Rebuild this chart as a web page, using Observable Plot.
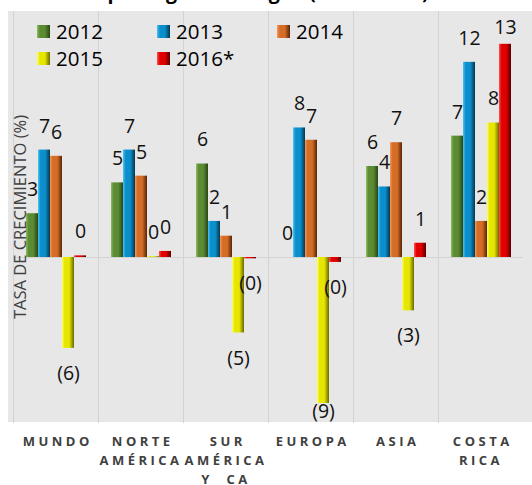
<!DOCTYPE html>
<html>
<head>
<meta charset="utf-8">
<script src="https://cdn.jsdelivr.net/npm/d3@7"></script>
<script src="https://cdn.jsdelivr.net/npm/@observablehq/plot@0.6"></script>
<style>
  html, body { margin: 0; padding: 0; background: #fff; }
  #wrap { position: relative; width: 532px; height: 485px; overflow: hidden; font-family: "Open Sans", sans-serif; }
  #bg { position: absolute; left: 8px; top: 11px; width: 524px; height: 411px; background: #e7e7e7; }
  #chart { position: absolute; left: 0; top: 0; }
  #title { position: absolute; left: 0; top: 0; }
  #legend { position: absolute; left: 0; top: 0; width: 532px; height: 80px; }
  .li { position: absolute; display: flex; align-items: center; font-size: 20.5px; color: #000; line-height: 1; }
  .li svg { margin-right: 6px; }
  #ytitle { position: absolute; left: 18.5px; top: 217px; transform: translate(-50%, -50%) rotate(-90deg); white-space: nowrap; font-size: 16.5px; color: #404040; }
</style>
</head>
<body>
<div id="wrap">
  <div id="bg"></div>
  <svg width="0" height="0" style="position:absolute">
    <defs id="defs"></defs>
  </svg>
  <div id="chart"></div>
  <svg id="title" width="532" height="12"><text x="268" y="-1.5" text-anchor="middle" font-family="Open Sans" font-weight="bold" font-size="19.5" fill="#000">por región de origen (2012-2016*)</text></svg>
  <div id="legend"></div>
  <div id="ytitle">TASA DE CRECIMIENTO (%)</div>
</div>
<script>
const regions = ["MUNDO", "NORTE AMÉRICA", "SUR AMÉRICA Y CA", "EUROPA", "ASIA", "COSTA RICA"];
const regionLabels = ["MUNDO", "NORTE\nAMÉRICA", "SUR\nAMÉRICA\nY  CA", "EUROPA", "ASIA", "COSTA\nRICA"];
const years = ["2012", "2013", "2014", "2015", "2016*"];
const v2012 = [2.67, 4.55, 5.7, 0, 5.55, 7.4];
const v2013 = [6.55, 6.55, 2.2, 7.9, 4.3, 11.9];
const v2014 = [6.17, 4.96, 1.3, 7.15, 7.0, 2.2];
const v2015 = [-5.54, 0.05, -4.6, -8.9, -3.25, 8.2];
const v2016 = [0.1, 0.37, -0.08, -0.3, 0.87, 13.0];
const seriesColors = {
  "2012": ["#8fbd5e", "#5b8c33", "#2a4514"],
  "2013": ["#4cc3f2", "#0b8fcc", "#03384f"],
  "2014": ["#f29a5c", "#d56d26", "#552506"],
  "2015": ["#ffff70", "#e6e600", "#6a6a00"],
  "2016*": ["#ff5050", "#e00000", "#560000"]
};

const series = [v2012, v2013, v2014, v2015, v2016];
const data = [];
years.forEach((yr, j) => regions.forEach((r, i) => data.push({region: r, year: yr, value: series[j][i]})));

// gradients (bevel look)
const defs = document.getElementById("defs");
years.forEach((yr, j) => {
  const [light, main, dark] = seriesColors[yr];
  const id = "g" + j;
  defs.insertAdjacentHTML("beforeend",
    `<linearGradient id="${id}" x1="0" x2="1" y1="0" y2="0">
      <stop offset="0" stop-color="${light}"/>
      <stop offset="0.22" stop-color="${main}"/>
      <stop offset="0.6" stop-color="${main}"/>
      <stop offset="1" stop-color="${dark}"/>
    </linearGradient>`);
});

const fmt = v => {
  const r = Math.round(Math.abs(v));
  return v < 0 ? `(${r})` : `${r}`;
};
const labelY = d => d.value >= 0 ? Math.min(d.value + 1.45, 14.0) : Math.max(d.value - 1.55, -9.4);

const marks = [
  Plot.frame({anchor: "left", stroke: "#d3d3d3"}),
  Plot.ruleY([0], {stroke: "#d3d3d3"})
];
years.forEach((yr, j) => {
  marks.push(Plot.barY(data.filter(d => d.year === yr), {
    fx: "region", x: "year", y: "value", fill: `url(#g${j})`
  }));
});
marks.push(Plot.text(data, {
  fx: "region", x: "year", y: labelY, text: d => fmt(d.value),
  fontSize: 19.5, fill: "#111"
}));
marks.push(Plot.axisFx({
  anchor: "bottom", tickSize: 0, tickPadding: 10, label: null, lineHeight: 1.45,
  fontSize: 13, fontWeight: "bold", fill: "#404040",
  tickFormat: d => regionLabels[regions.indexOf(d)]
}));

const plot = Plot.plot({
  width: 532, height: 485,
  marginLeft: 10, marginRight: 7, marginTop: 11, marginBottom: 63,
  style: {fontFamily: "Open Sans", background: "transparent", overflow: "visible"},
  fx: {domain: regions, padding: 0, label: null, axis: null},
  x: {domain: years, paddingInner: 0, paddingOuter: 0.88, axis: null},
  y: {domain: [-10.06, 15.0], axis: null},
  marks
});
document.getElementById("chart").appendChild(plot);

d3.select(plot).selectAll('[aria-label="fx-axis tick label"]')
  .style("letter-spacing", "3.5px").attr("font-weight", "bold");
d3.select(plot).selectAll('[aria-label="fx-axis tick label"] text').attr("dx", 1.75);

// legend
const legend = document.getElementById("legend");
const pos = [[37, 31], [157, 31], [277, 31], [37, 58], [157, 58]];
years.forEach((yr, j) => {
  const [x, y] = pos[j];
  const el = document.createElement("div");
  el.className = "li";
  el.style.left = x + "px";
  el.style.top = (y - 12) + "px";
  el.style.height = "24px";
  el.innerHTML = `<svg width="13" height="13"><rect width="13" height="13" fill="url(#g${j})"/></svg><span>${yr}</span>`;
  legend.appendChild(el);
});
</script>
</body>
</html>
